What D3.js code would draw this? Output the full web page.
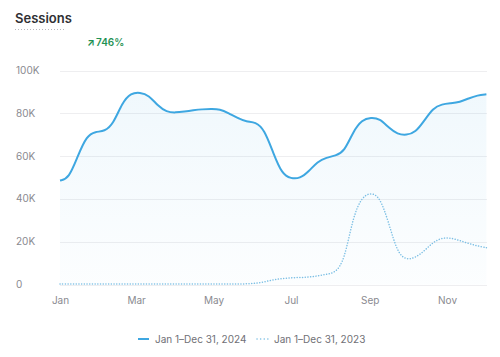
<!DOCTYPE html>
<html><head><meta charset="utf-8">
<script src="https://cdn.jsdelivr.net/npm/d3@7"></script>
<style>
html,body{margin:0;padding:0;background:#fff;}
svg{display:block;font-family:Inter,"Noto Sans",sans-serif;}
</style></head>
<body><svg id="c" width="500" height="357"></svg>
<script>
const title = "Sessions";
const changeLabel = "746%";
const seriesNames = ["Jan 1–Dec 31, 2024", "Jan 1–Dec 31, 2023"];
const startDate = "2024-01-01";
const stepDays = 7;
const values2024 = [48.6,49.5,60,69.5,71.5,71.5,75,85,89.5,89.8,88.5,83.5,80.6,80.3,80.8,81.4,81.9,82,82,80,77.8,76,76,72.5,61.5,51.5,49.5,49.5,52.8,57.5,59.3,60.2,62,71.5,77,78,77.5,73.3,70.2,69.8,71,76.5,82.5,84.3,84.7,85.2,87,88.4,88.9].map(v=>v*1000);
const values2023 = [0.2,0.2,0.2,0.2,0.2,0.2,0.2,0.2,0.2,0.2,0.2,0.2,0.2,0.2,0.2,0.2,0.2,0.2,0.2,0.2,0.2,0.3,0.5,1.2,2.2,2.8,3.1,3.3,3.4,4,4.8,5.5,11,32,41,43,41,29,14.5,11.5,12.5,15.6,19.8,21.8,21.8,20.5,19.2,18,17.2].map(v=>v*1000);
const yTicks = [0,20000,40000,60000,80000,100000];
const yTickLabels = ["0","20K","40K","60K","80K","100K"];
const xTickDates = ["2024-01-01","2024-03-01","2024-05-01","2024-07-01","2024-09-01","2024-11-01"];

const parse = d3.timeParse("%Y-%m-%d");
const start = parse(startDate);
const dates = values2024.map((_,i)=>d3.timeDay.offset(start, i*stepDays));
const d24 = values2024.map((v,i)=>({d:dates[i], v}));
const d23 = values2023.map((v,i)=>({d:dates[i], v}));

const svg = d3.select("#c");
const x = d3.scaleTime().domain([dates[0], dates[dates.length-1]]).range([60, 486.4]);
const y = d3.scaleLinear().domain([0,100000]).range([284.5, 70.5]);

// title
svg.append("text").attr("x",15).attr("y",23).attr("font-size",13).attr("font-weight",600).attr("fill","#2f2f33").text(title);
svg.append("line").attr("x1",15).attr("x2",64).attr("y1",29.5).attr("y2",29.5).attr("stroke","#b8b8bd").attr("stroke-width",1).attr("stroke-dasharray","1,2");

// change badge
svg.append("text").attr("x",87).attr("y",45.5).attr("font-size",10).attr("font-weight",700).attr("fill","#1f9255").text("↗");
svg.append("text").attr("x",96).attr("y",45.5).attr("font-size",10).attr("font-weight",600).attr("fill","#1f9255").text(changeLabel);

// gradient
const defs = svg.append("defs");
const g1 = defs.append("linearGradient").attr("id","ga").attr("x1",0).attr("y1",0).attr("x2",0).attr("y2",1);
g1.append("stop").attr("offset","0%").attr("stop-color","#3aa6e0").attr("stop-opacity",0.075);
g1.append("stop").attr("offset","100%").attr("stop-color","#3aa6e0").attr("stop-opacity",0.015);

// grid
svg.append("g").selectAll("line").data(yTicks).join("line")
  .attr("x1",60).attr("x2",487).attr("y1",d=>Math.round(y(d))+0.5).attr("y2",d=>Math.round(y(d))+0.5)
  .attr("stroke","#eeeef0").attr("stroke-width",1);

// y labels
svg.append("g").selectAll("text").data(yTicks).join("text")
  .attr("x",16).attr("y",d=>y(d)+3.5).attr("font-size",10).attr("fill","#8a8a90")
  .text((d,i)=>yTickLabels[i]);

// x axis labels
const xAxis = d3.axisBottom(x).tickValues(xTickDates.map(parse)).tickFormat(d3.timeFormat("%b")).tickSize(0).tickPadding(0);
const xg = svg.append("g").attr("transform","translate(0,304)").call(xAxis);
xg.select(".domain").remove();
xg.selectAll("text").attr("font-size",10).attr("fill","#8a8a90").attr("font-family","Inter,'Noto Sans',sans-serif").attr("dy",0);

// area + lines
const curve = d3.curveBasis;
svg.append("path").datum(d24).attr("fill","url(#ga)")
  .attr("d", d3.area().x(d=>x(d.d)).y0(y(0)).y1(d=>y(d.v)).curve(curve));
svg.append("path").datum(d23).attr("fill","none").attr("stroke","#7cbfe4").attr("stroke-width",1.5)
  .attr("stroke-dasharray","0.1,2.6").attr("stroke-linecap","round")
  .attr("d", d3.line().x(d=>x(d.d)).y(d=>y(d.v)).curve(curve));
svg.append("path").datum(d24).attr("fill","none").attr("stroke","#3ea7e1").attr("stroke-width",2)
  .attr("d", d3.line().x(d=>x(d.d)).y(d=>y(d.v)).curve(curve));

// legend
const lg = svg.append("g");
lg.append("line").attr("x1",138).attr("x2",149).attr("y1",339).attr("y2",339).attr("stroke","#3ea7e1").attr("stroke-width",2);
lg.append("text").attr("x",155).attr("y",342.5).attr("font-size",10).attr("fill","#707076").text(seriesNames[0]);
lg.append("line").attr("x1",257).attr("x2",269).attr("y1",339).attr("y2",339).attr("stroke","#7cbfe4").attr("stroke-width",1.5).attr("stroke-dasharray","0.1,3.5").attr("stroke-linecap","round");
lg.append("text").attr("x",274).attr("y",342.5).attr("font-size",10).attr("fill","#707076").text(seriesNames[1]);
</script></body></html>
